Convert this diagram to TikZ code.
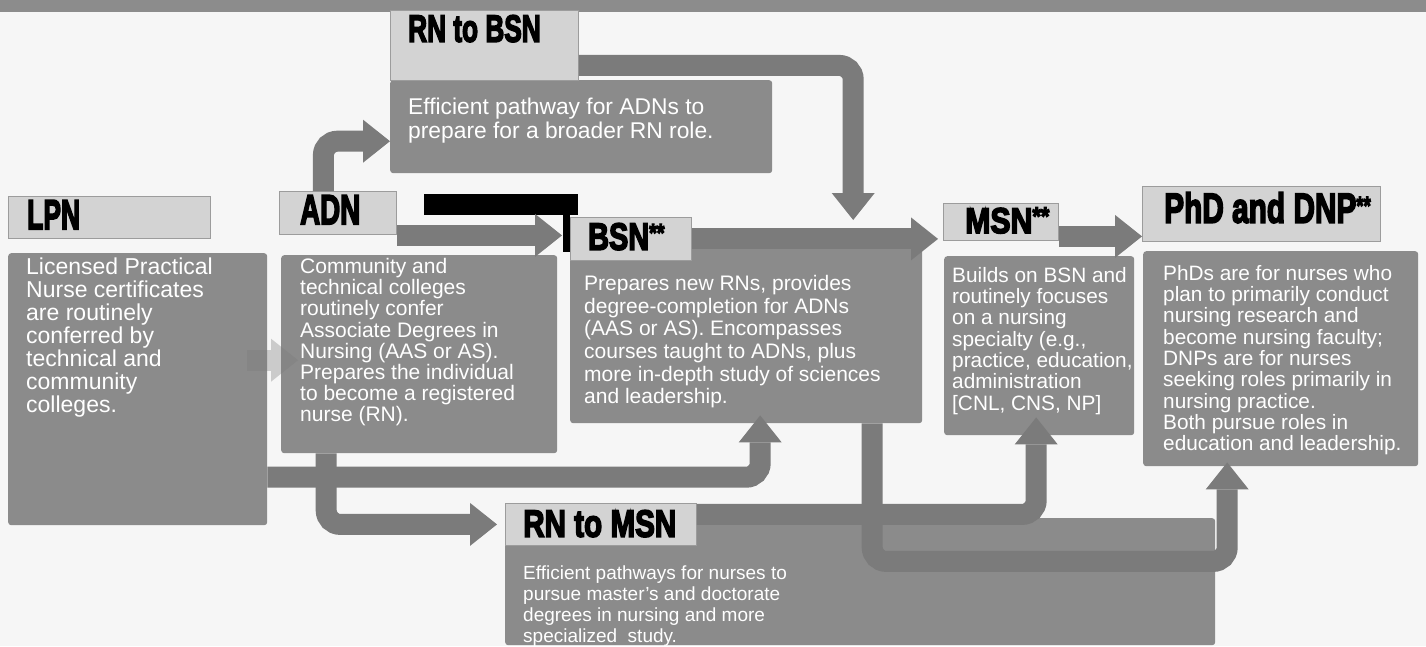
\documentclass[tikz,border=0pt]{standalone}
\usepackage{graphicx}
\usepackage{fontspec}
\setmainfont{Liberation Sans}
\newfontfamily\headfont{Liberation Sans}[FakeBold=4.5]
\usetikzlibrary{arrows.meta,calc}

\definecolor{pagebg}{HTML}{F6F6F6}
\definecolor{bargray}{HTML}{8C8C8C}
\definecolor{headfill}{HTML}{D3D3D3}
\definecolor{headline}{HTML}{9C9C9C}
\definecolor{bodyfill}{HTML}{8B8B8B}
\definecolor{flowgray}{HTML}{7B7B7B}

% header lettering: size, horizontal squeeze, text
\newcommand{\headtxt}[3]{\scalebox{#2}[1]{\headfont\bfseries\fontsize{#1}{#1}\selectfont #3}}
\newcommand{\stars}{\raisebox{8pt}{\fontsize{26}{26}\selectfont **}}

\tikzset{
  headbox/.style={draw=headline, fill=headfill, line width=0.8pt, anchor=north west, inner sep=0pt},
  bodybox/.style={fill=bodyfill, rounded corners=3pt, anchor=north west, inner sep=0pt},
  headtext/.style={anchor=north west, inner sep=0pt, text=black},
  bodytext/.style={anchor=north west, inner sep=0pt, align=left, text=white},
  flow/.style={draw=flowgray, line width=21pt, rounded corners=14pt,
    -{Triangle[width=43pt,length=27pt,line width=0pt]}},
}

\begin{document}
\begin{tikzpicture}[x=1pt,y=-1pt]

  \useasboundingbox (0,0) rectangle (1426,646);
  \fill[pagebg] (0,0) rectangle (1426,646);
  \fill[bargray] (0,0) rectangle (1426,12);

  % black bar behind BSN
  \fill[black] (424,194) rectangle (578,215);
  \fill[black] (563,215) rectangle (570,252);

  % body boxes
  \node[bodybox, minimum width=259pt, minimum height=272pt] (lpnB) at (8,253) {};
  \node[bodybox, minimum width=276pt, minimum height=198pt] (adnB) at (281,255) {};
  \node[bodybox, minimum width=352pt, minimum height=176pt] (bsnB) at (570,247) {};
  \node[bodybox, minimum width=190pt, minimum height=179pt] (msnB) at (944,256) {};
  \node[bodybox, minimum width=275pt, minimum height=215pt] (phdB) at (1143,251) {};
  \node[bodybox, minimum width=382pt, minimum height=93pt] (rnbsnB) at (390,80) {};
  \node[bodybox, minimum width=710pt, minimum height=127pt] (rnmsnB) at (505,518) {};

  % header boxes
  \node[headbox, minimum width=202pt, minimum height=42pt] (lpnH) at (8,196) {};
  \node[headbox, minimum width=117pt, minimum height=43pt] (adnH) at (279,191) {};
  \node[headbox, minimum width=121pt, minimum height=43pt] (bsnH) at (570,217) {};
  \node[headbox, minimum width=115pt, minimum height=37pt] (msnH) at (943,203) {};
  \node[headbox, minimum width=238pt, minimum height=55pt] (phdH) at (1142,186) {};
  \node[headbox, minimum width=188pt, minimum height=70pt] (rnbsnH) at (390,10) {};
  \node[headbox, minimum width=191pt, minimum height=42pt] (rnmsnH) at (505,503) {};

  \node[headtext] (lpnHT) at ([xshift=19pt,yshift=-4pt]lpnH.north west) {\headtxt{42}{0.63}{LPN}};
  \node[headtext] (adnHT) at ([xshift=21pt,yshift=-4pt]adnH.north west) {\headtxt{42}{0.66}{ADN}};
  \node[headtext] (bsnHT) at ([xshift=18pt,yshift=-6pt]bsnH.north west) {\headtxt{38}{0.76}{BSN\stars}};
  \node[headtext] (msnHT) at ([xshift=22pt,yshift=-4pt]msnH.north west) {\headtxt{36}{0.84}{MSN\stars}};
  \node[headtext] (phdHT) at ([xshift=22pt,yshift=-6pt]phdH.north west) {\headtxt{42}{0.71}{PhD and DNP\stars}};
  \node[headtext] (rnbsnHT) at ([xshift=18pt,yshift=-5pt]rnbsnH.north west) {\headtxt{38}{0.69}{RN to BSN}};
  \node[headtext] (rnmsnHT) at ([xshift=18pt,yshift=-7pt]rnmsnH.north west) {\headtxt{38}{0.78}{RN to MSN}};

  % body texts
  \node[bodytext, font=\fontsize{23}{22.9}\selectfont] (lpnT) at ([xshift=18pt,yshift=-5pt]lpnB.north west)
    {Licensed Practical\\Nurse certificates\\are routinely\\conferred by\\technical and\\community\\colleges.};
  \node[bodytext, font=\fontsize{21}{21.2}\selectfont] (adnT) at ([xshift=19pt,yshift=-3pt]adnB.north west)
    {Community and\\technical colleges\\routinely confer\\Associate Degrees in\\Nursing (AAS or AS).\\Prepares the individual\\to become a registered\\nurse (RN).};
  \node[bodytext, font=\fontsize{21}{22.7}\selectfont] (bsnT) at ([xshift=14pt,yshift=-28pt]bsnB.north west)
    {Prepares new RNs, provides\\degree-completion for ADNs\\(AAS or AS). Encompasses\\courses taught to ADNs, plus\\more in-depth study of sciences\\and leadership.};
  \node[bodytext, font=\fontsize{20.8}{21.3}\selectfont] (msnT) at ([xshift=8pt,yshift=-11pt]msnB.north west)
    {Builds on BSN and\\routinely focuses\\on a nursing\\specialty (e.g.,\\practice, education,\\administration\\{[CNL, CNS, NP]}};
  \node[bodytext, font=\fontsize{20.8}{21.3}\selectfont] (phdT) at ([xshift=20pt,yshift=-14pt]phdB.north west)
    {PhDs are for nurses who\\plan to primarily conduct\\nursing research and\\become nursing faculty;\\DNPs are for nurses\\seeking roles primarily in\\nursing practice.\\Both pursue roles in\\education and leadership.};
  \node[bodytext, font=\fontsize{22.8}{24}\selectfont] (rnbsnT) at ([xshift=18pt,yshift=-18pt]rnbsnB.north west)
    {Efficient pathway for ADNs to\\prepare for a broader RN role.};
  \node[bodytext, font=\fontsize{19}{21}\selectfont] (rnmsnT) at ([xshift=18pt,yshift=-20pt]rnmsnH.south west)
    {Efficient pathways for nurses to\\pursue master's and doctorate\\degrees in nursing and more\\specialized\ \ study.};

  % pathways
  \coordinate (adnOut) at ([yshift=-22.5pt]adnH.east);
  \coordinate (msnOut) at ([yshift=-14.5pt]msnH.east);

  \draw[flow] ([xshift=-14.5pt]adnH.north) |- ([yshift=-14.5pt]rnbsnB.west);
  \draw[flow] ([yshift=-20pt]rnbsnH.east) -| ([xshift=107pt,yshift=27pt]bsnB.north);
  \draw[flow, shorten >=8pt] (adnOut) -- (adnOut -| bsnH.west);
  \draw[flow, shorten >=5pt] (bsnH.east) -- (bsnH.east -| msnH.west);
  \draw[flow] (msnOut) -- (msnOut -| phdH.west);
  \draw[flow] ([yshift=-88pt]lpnB.east) -| ([xshift=14pt,yshift=8pt]bsnB.south);
  \draw[flow, shorten >=8pt] ([xshift=-93pt]adnB.south) |- (rnmsnH.west);
  \draw[flow] ([yshift=10pt]rnmsnH.east) -| ([xshift=-3pt,yshift=18pt]msnB.south);
  \draw[flow] ([xshift=126pt]bsnB.south) -- ++(0,138) -| ([xshift=-53.5pt,yshift=4pt]phdB.south);
  \draw[flow, opacity=0.35] ([xshift=-20pt,yshift=29pt]lpnB.east) -- ([xshift=17pt,yshift=-6pt]adnB.west);

\end{tikzpicture}
\end{document}
